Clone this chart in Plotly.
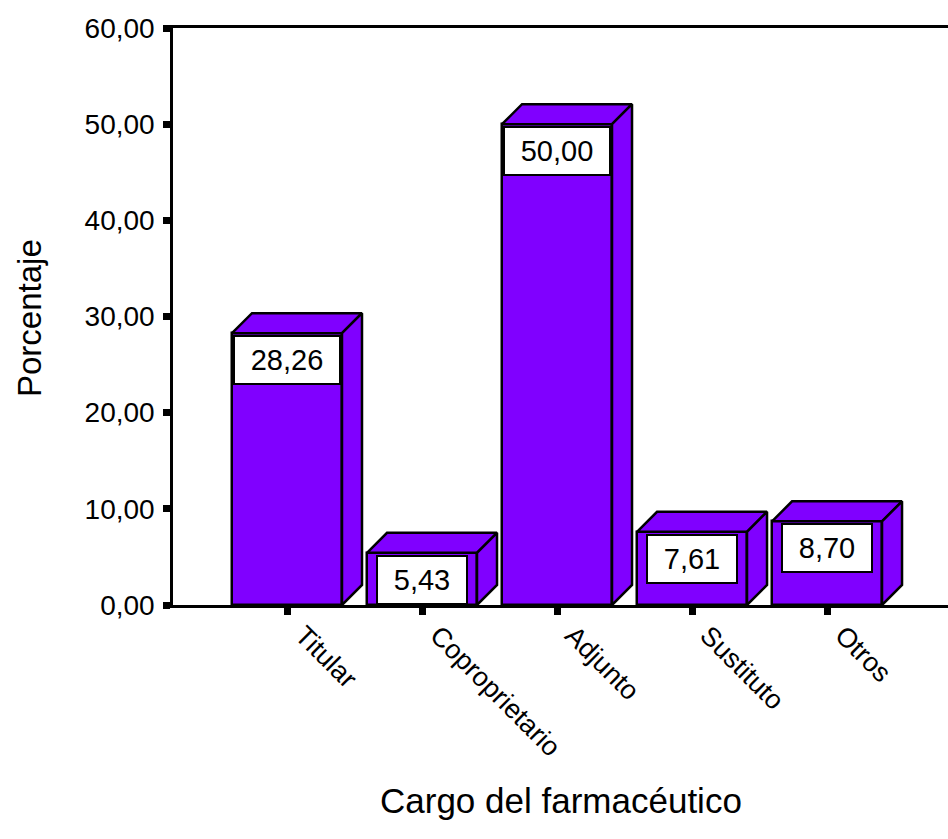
import plotly.graph_objects as go

# Cargo del farmacéutico: porcentaje por categoría
categorias = ["Titular", "Coproprietario", "Adjunto", "Sustituto", "Otros"]
porcentajes = [28.26, 5.43, 50.00, 7.61, 8.70]
y_ticks = [0, 10, 20, 30, 40, 50, 60]

# Layout geometry (pixels)
W, H = 948, 839
M_L, M_R, M_T, M_B = 173, 0, 28, 234
plot_w = W - M_L - M_R
plot_h = H - M_T - M_B
X_RANGE = [-0.8444, 4.896]
Y_RANGE = [0, 60]
px_per_x = plot_w / (X_RANGE[1] - X_RANGE[0])
px_per_y = plot_h / (Y_RANGE[1] - Y_RANGE[0])

DEPTH_PX = 20
dx = DEPTH_PX / px_per_x
dy = DEPTH_PX / px_per_y
BAR_W = 110 / px_per_x

PURPLE = "#8000FF"
EDGE = dict(color="black", width=2.5)
FONT = "Liberation Sans, Arial, sans-serif"

fig = go.Figure()

# Front faces
fig.add_trace(go.Bar(
    x=list(range(len(categorias))), y=porcentajes, width=BAR_W,
    marker=dict(color=PURPLE, line=EDGE), hoverinfo="skip", showlegend=False,
))

# Top and side faces for the 3D look
for i, v in enumerate(porcentajes):
    xl, xr = i - BAR_W / 2, i + BAR_W / 2
    top_x = [xl, xl + dx, xr + dx, xr, xl]
    top_y = [v, v + dy, v + dy, v, v]
    side_x = [xr, xr + dx, xr + dx, xr, xr]
    side_y = [0, dy, v + dy, v, 0]
    for px_, py_ in ((top_x, top_y), (side_x, side_y)):
        fig.add_trace(go.Scatter(
            x=px_, y=py_, mode="lines", fill="toself", fillcolor=PURPLE,
            line=EDGE, hoverinfo="skip", showlegend=False,
        ))

# Value labels in white boxes at the top of each front face
box_w = [100, 84, 100, 84, 84]
for i, v in enumerate(porcentajes):
    fig.add_annotation(
        x=i, y=v, xref="x", yref="y", yanchor="top", yshift=-2,
        text=f"{v:.2f}".replace(".", ","), showarrow=False,
        font=dict(family=FONT, size=29, color="black"),
        bgcolor="white", bordercolor="black", borderwidth=2, borderpad=2,
        width=box_w[i], height=42, align="center", valign="middle",
    )

# Axis titles
fig.add_annotation(
    x=0.5, y=-(800 - (M_T + plot_h)) / plot_h,
    xref="paper", yref="paper", text="Cargo del farmacéutico", showarrow=False,
    font=dict(family=FONT, size=35, color="black"), xanchor="center", yanchor="middle",
)
fig.add_annotation(
    x=-(M_L - 29) / plot_w, y=(605 - 318) / plot_h,
    xref="paper", yref="paper", text="Porcentaje", showarrow=False, textangle=-90,
    font=dict(family=FONT, size=33, color="black"), xanchor="center", yanchor="middle",
)

fig.update_layout(
    width=W, height=H, margin=dict(l=M_L, r=M_R, t=M_T, b=M_B, autoexpand=False),
    paper_bgcolor="white", plot_bgcolor="white", separators=",.",
    bargap=0, showlegend=False,
    font=dict(family=FONT, color="black"),
)
fig.update_xaxes(
    range=X_RANGE, tickmode="array", tickvals=list(range(len(categorias))),
    ticktext=categorias, tickangle=45, ticks="outside", ticklen=7, tickwidth=7,
    tickcolor="black", showline=True, linecolor="black", linewidth=2.5,
    mirror=True, showgrid=False, zeroline=False, automargin=False,
    ticklabelshift=16, ticklabelstandoff=-6,
    tickfont=dict(family=FONT, size=27, color="black"),
)
fig.update_yaxes(
    range=Y_RANGE, tickmode="array", tickvals=y_ticks, tickformat=".2f",
    ticks="outside", ticklen=7, tickwidth=7, tickcolor="black",
    showline=True, linecolor="black", linewidth=2.5, showgrid=False,
    zeroline=False, automargin=False, ticklabelstandoff=3,
    tickfont=dict(family=FONT, size=28, color="black"),
)

fig.write_html("out.html")
